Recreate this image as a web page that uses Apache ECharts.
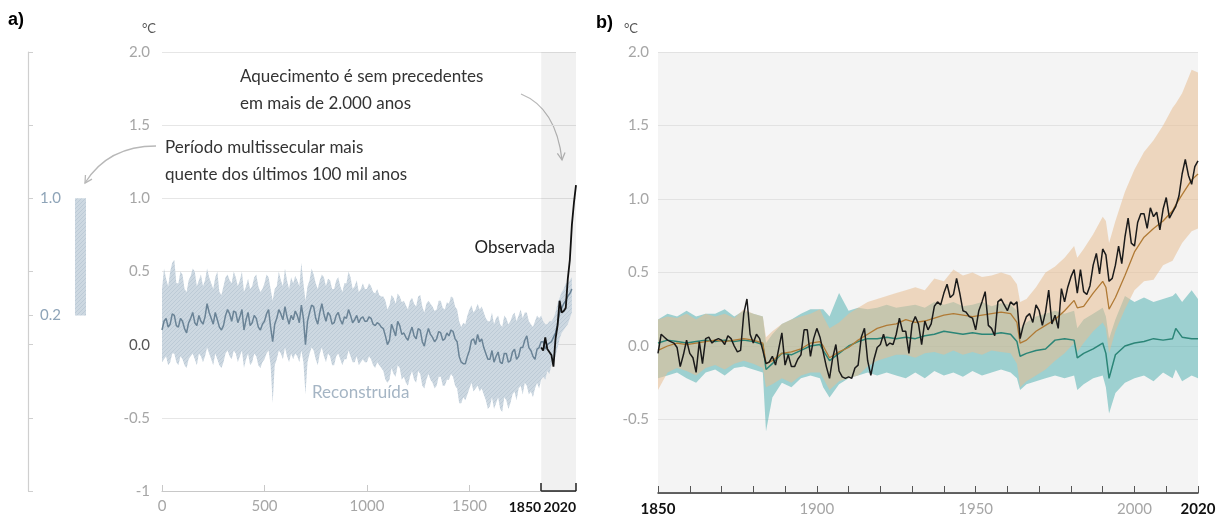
<!DOCTYPE html>
<html>
<head>
<meta charset="utf-8">
<script src="https://cdn.jsdelivr.net/npm/echarts@6.0.0/dist/echarts.min.js"></script>
<style>
html,body{margin:0;padding:0;background:#fff;}
#chart{width:1219px;height:524px;}
</style>
</head>
<body>
<div id="chart"></div>
<script>
// ---------- data ----------
const yTickValues = [-1, -0.5, 0, 0.5, 1, 1.5, 2];
const yTickLabels = ['-1', '-0.5', '0.0', '0.5', '1.0', '1.5', '2.0'];

// Panel a: reconstruction (10-year steps, year 0 to 2000)
const reconStart = 0, reconStep = 10;
const reconMean = [
  0.10, 0.16, 0.18, 0.12, 0.14, 0.21, 0.20, 0.13, 0.12, 0.18,
  0.16, 0.11, 0.08, 0.15, 0.18, 0.22, 0.15, 0.13, 0.20, 0.16,
  0.14, 0.19, 0.28, 0.22, 0.18, 0.14, 0.22, 0.17, 0.12, 0.10,
  0.13, 0.20, 0.24, 0.21, 0.16, 0.23, 0.22, 0.15, 0.19, 0.24,
  0.10, 0.17, 0.22, 0.13, 0.15, 0.20, 0.18, 0.12, 0.10, 0.14,
  0.16, 0.21, 0.24, 0.12, 0.02, 0.14, 0.18, 0.24, 0.21, 0.17,
  0.26, 0.19, 0.14, 0.20, 0.17, 0.23, 0.20, 0.15, 0.27, 0.18,
  0.00, 0.16, 0.22, 0.27, 0.26, 0.18, 0.14, 0.22, 0.28, 0.21,
  0.16, 0.22, 0.20, 0.14, 0.15, 0.20, 0.22, 0.17, 0.14, 0.19,
  0.18, 0.24, 0.20, 0.15, 0.17, 0.20, 0.15, 0.18, 0.19, 0.16,
  0.16, 0.19, 0.18, 0.14, 0.13, 0.15, 0.14, 0.12, 0.11, 0.06,
  0.00, 0.03, 0.14, 0.10, 0.06, 0.16, 0.13, 0.07, 0.08, 0.05,
  0.03, 0.08, 0.12, 0.06, 0.04, 0.11, 0.10, 0.02, -0.01, 0.06,
  0.11, 0.07, 0.05, 0.02, 0.04, 0.09, 0.08, 0.03, 0.04, 0.08,
  0.06, 0.10, 0.09, 0.04, 0.02, -0.08, -0.12, -0.13, -0.13, -0.08,
  -0.04, 0.03, 0.04, 0.00, 0.07, 0.02, 0.04, -0.02, -0.06, -0.10,
  -0.10, -0.04, -0.12, -0.08, -0.05, -0.12, -0.13, -0.06, -0.06, -0.12,
  -0.11, -0.05, -0.03, -0.10, -0.08, -0.02, -0.02, 0.03, 0.06, -0.02,
  -0.04, -0.08, -0.10, -0.03, -0.02, 0.02, 0.02, -0.03, 0.00, 0.01,
  0.02, 0.05, 0.08, 0.14, 0.22, 0.25, 0.28, 0.30, 0.33, 0.35,
  0.38
];
const reconUpper = [
  0.38, 0.52, 0.45, 0.40, 0.50, 0.56, 0.58, 0.42, 0.42, 0.50,
  0.48, 0.38, 0.36, 0.44, 0.47, 0.52, 0.50, 0.40, 0.44, 0.48,
  0.40, 0.44, 0.52, 0.46, 0.42, 0.38, 0.46, 0.50, 0.36, 0.34,
  0.40, 0.46, 0.48, 0.44, 0.42, 0.50, 0.46, 0.40, 0.44, 0.50,
  0.36, 0.40, 0.45, 0.38, 0.40, 0.46, 0.48, 0.40, 0.36, 0.38,
  0.42, 0.48, 0.46, 0.38, 0.30, 0.38, 0.40, 0.50, 0.44, 0.40,
  0.52, 0.44, 0.38, 0.46, 0.42, 0.47, 0.44, 0.40, 0.56, 0.42,
  0.30, 0.40, 0.44, 0.52, 0.48, 0.42, 0.38, 0.44, 0.48, 0.46,
  0.40, 0.45, 0.44, 0.38, 0.38, 0.44, 0.46, 0.40, 0.36, 0.42,
  0.42, 0.50, 0.46, 0.38, 0.40, 0.44, 0.36, 0.38, 0.42, 0.38,
  0.38, 0.42, 0.40, 0.36, 0.35, 0.38, 0.34, 0.33, 0.33, 0.30,
  0.24, 0.27, 0.34, 0.32, 0.28, 0.35, 0.33, 0.29, 0.30, 0.27,
  0.24, 0.30, 0.32, 0.28, 0.26, 0.33, 0.34, 0.26, 0.22, 0.28,
  0.30, 0.28, 0.26, 0.23, 0.24, 0.30, 0.30, 0.25, 0.24, 0.29,
  0.28, 0.33, 0.32, 0.26, 0.24, 0.16, 0.12, 0.15, 0.14, 0.20,
  0.24, 0.27, 0.22, 0.24, 0.28, 0.24, 0.26, 0.22, 0.18, 0.16,
  0.16, 0.22, 0.14, 0.18, 0.20, 0.14, 0.12, 0.20, 0.18, 0.14,
  0.16, 0.20, 0.22, 0.16, 0.20, 0.24, 0.18, 0.22, 0.22, 0.16,
  0.14, 0.12, 0.16, 0.20, 0.18, 0.20, 0.16, 0.14, 0.14, 0.16,
  0.16, 0.18, 0.22, 0.28, 0.32, 0.36, 0.38, 0.42, 0.42, 0.44,
  0.46
];
const reconLower = [
  -0.12, -0.10, -0.08, -0.14, -0.12, -0.06, -0.06, -0.12, -0.14, -0.08,
  -0.10, -0.14, -0.16, -0.10, -0.08, -0.06, -0.10, -0.14, -0.06, -0.08,
  -0.12, -0.08, -0.02, -0.06, -0.10, -0.14, -0.06, -0.10, -0.14, -0.16,
  -0.12, -0.06, -0.04, -0.08, -0.10, -0.04, -0.06, -0.12, -0.08, -0.04,
  -0.16, -0.10, -0.06, -0.14, -0.12, -0.06, -0.08, -0.14, -0.16, -0.12,
  -0.10, -0.06, -0.04, -0.14, -0.40, -0.14, -0.10, -0.04, -0.06, -0.10,
  -0.02, -0.08, -0.12, -0.06, -0.10, -0.06, -0.08, -0.12, -0.04, -0.12,
  -0.34, -0.12, -0.06, -0.02, -0.04, -0.10, -0.14, -0.06, -0.02, -0.08,
  -0.12, -0.06, -0.08, -0.14, -0.14, -0.08, -0.06, -0.10, -0.14, -0.10,
  -0.10, -0.04, -0.08, -0.12, -0.12, -0.08, -0.14, -0.12, -0.10, -0.12,
  -0.12, -0.08, -0.10, -0.14, -0.16, -0.12, -0.14, -0.16, -0.18, -0.24,
  -0.26, -0.24, -0.16, -0.20, -0.22, -0.14, -0.16, -0.24, -0.22, -0.26,
  -0.28, -0.22, -0.18, -0.24, -0.26, -0.18, -0.20, -0.28, -0.30, -0.24,
  -0.20, -0.24, -0.26, -0.30, -0.28, -0.22, -0.22, -0.28, -0.28, -0.24,
  -0.24, -0.20, -0.22, -0.28, -0.30, -0.40, -0.40, -0.36, -0.38, -0.34,
  -0.30, -0.26, -0.32, -0.30, -0.28, -0.32, -0.30, -0.34, -0.38, -0.44,
  -0.42, -0.36, -0.44, -0.40, -0.36, -0.44, -0.46, -0.36, -0.38, -0.44,
  -0.40, -0.34, -0.32, -0.38, -0.30, -0.28, -0.34, -0.26, -0.28, -0.34,
  -0.32, -0.36, -0.30, -0.26, -0.30, -0.24, -0.22, -0.24, -0.18, -0.20,
  -0.14, -0.10, -0.08, -0.02, 0.04, 0.08, 0.10, 0.12, 0.14, 0.18,
  0.22
];

// Panel a: observed, decadal (1850 to 2020)
const obsDecadalStart = 1850, obsDecadalStep = 10;
const obsDecadal = [-0.02, -0.04, 0.05, -0.03, -0.05, -0.07, -0.15, 0.04, 0.13,
  0.30, 0.22, 0.23, 0.25, 0.45, 0.58, 0.82, 0.97, 1.09];

// Warmest multi-century period of the last 100,000 years
const warmestRange = [0.2, 1.0];
// Observation period highlighted on panel a
const obsPeriod = [1850, 2020];

// Panel b: observed annual (1850 to 2020)
const obsStart = 1850;
const obsAnnual = [
  -0.05, 0.08, 0.06, 0.04, 0.03, 0.02, -0.01, -0.14, -0.06, 0.04,
  -0.05, -0.08, -0.18, 0.03, -0.12, 0.05, 0.06, 0.02, 0.04, 0.05,
  0.04, 0.01, 0.07, 0.05, 0.00, -0.04, -0.03, 0.22, 0.32, 0.08,
  0.02, 0.08, 0.05, -0.03, -0.12, -0.11, -0.07, -0.13, -0.02, 0.09,
  -0.13, -0.06, -0.14, -0.14, -0.09, -0.06, 0.11, 0.11, -0.07, 0.05,
  0.12, 0.06, -0.04, -0.14, -0.22, -0.08, 0.01, -0.17, -0.21, -0.22,
  -0.21, -0.22, -0.15, -0.13, 0.06, 0.12, -0.10, -0.20, -0.09, -0.01,
  0.01, 0.08, 0.00, 0.02, 0.01, 0.08, 0.19, 0.10, 0.10, -0.05,
  0.15, 0.20, 0.15, 0.01, 0.17, 0.11, 0.15, 0.27, 0.30, 0.28,
  0.36, 0.42, 0.33, 0.35, 0.46, 0.36, 0.24, 0.23, 0.20, 0.19,
  0.11, 0.24, 0.30, 0.37, 0.14, 0.12, 0.07, 0.30, 0.32, 0.28,
  0.24, 0.30, 0.28, 0.30, 0.05, 0.14, 0.20, 0.22, 0.16, 0.28,
  0.24, 0.14, 0.23, 0.38, 0.15, 0.21, 0.12, 0.39, 0.30, 0.40,
  0.47, 0.52, 0.36, 0.52, 0.37, 0.35, 0.41, 0.55, 0.63, 0.49,
  0.66, 0.62, 0.44, 0.46, 0.55, 0.68, 0.56, 0.74, 0.87, 0.70,
  0.68, 0.84, 0.90, 0.90, 0.80, 0.94, 0.88, 0.91, 0.79, 0.93,
  1.01, 0.87, 0.91, 0.95, 1.02, 1.17, 1.27, 1.16, 1.10, 1.22,
  1.26
];

// Panel b: simulations (human + natural, natural only)
const simYears = [1850, 1853, 1856, 1859, 1862, 1865, 1868, 1871, 1874, 1877,
  1880, 1883, 1884, 1886, 1889, 1892, 1895, 1898, 1901, 1902,
  1904, 1907, 1910, 1913, 1916, 1919, 1922, 1925, 1928, 1931,
  1934, 1937, 1940, 1943, 1946, 1949, 1952, 1955, 1958, 1961,
  1963, 1964, 1966, 1969, 1972, 1975, 1978, 1981, 1982, 1984,
  1987, 1990, 1991, 1992, 1994, 1997, 2000, 2003, 2006, 2009,
  2012, 2013, 2015, 2018, 2020];
const humanNatMean = [-0.03, 0.00, 0.02, 0.01, 0.02, 0.03, 0.04, 0.03, 0.04, 0.05,
  0.04, 0.02, -0.12, -0.10, -0.05, -0.04, -0.02, 0.02, 0.03, 0.00,
  -0.08, -0.04, -0.01, 0.04, 0.08, 0.12, 0.14, 0.15, 0.18, 0.16,
  0.17, 0.19, 0.21, 0.22, 0.21, 0.20, 0.21, 0.22, 0.23, 0.22,
  0.16, 0.02, 0.04, 0.10, 0.14, 0.18, 0.24, 0.31, 0.26, 0.27,
  0.36, 0.44, 0.40, 0.25, 0.33, 0.48, 0.64, 0.74, 0.80, 0.85,
  0.92, 0.96, 1.03, 1.13, 1.17];
const humanNatUpper = [0.18, 0.20, 0.19, 0.22, 0.18, 0.22, 0.20, 0.22, 0.19, 0.25,
  0.22, 0.20, 0.06, 0.10, 0.15, 0.18, 0.20, 0.22, 0.25, 0.20,
  0.12, 0.16, 0.22, 0.26, 0.30, 0.32, 0.34, 0.36, 0.38, 0.40,
  0.38, 0.46, 0.44, 0.52, 0.48, 0.50, 0.47, 0.48, 0.50, 0.48,
  0.42, 0.30, 0.32, 0.40, 0.50, 0.54, 0.60, 0.68, 0.60, 0.66,
  0.76, 0.88, 0.85, 0.70, 0.85, 1.05, 1.20, 1.32, 1.40, 1.50,
  1.62, 1.65, 1.72, 1.88, 1.86];
const humanNatLower = [-0.30, -0.18, -0.15, -0.17, -0.20, -0.15, -0.13, -0.16, -0.12, -0.10,
  -0.12, -0.15, -0.28, -0.26, -0.22, -0.25, -0.20, -0.18, -0.18, -0.22,
  -0.30, -0.24, -0.22, -0.20, -0.14, -0.10, -0.08, -0.06, -0.06, -0.08,
  -0.05, -0.04, -0.06, -0.03, -0.06, -0.04, -0.06, -0.03, -0.04, -0.05,
  -0.12, -0.28, -0.24, -0.20, -0.16, -0.10, -0.05, 0.02, -0.04, 0.02,
  0.10, 0.16, 0.12, -0.05, 0.10, 0.25, 0.38, 0.44, 0.45, 0.55,
  0.58, 0.62, 0.70, 0.78, 0.80];
const naturalMean = [0.02, 0.04, 0.03, 0.02, 0.03, 0.04, 0.03, 0.04, 0.03, 0.04,
  0.03, 0.01, -0.16, -0.12, -0.05, -0.06, -0.03, 0.00, 0.01, -0.03,
  -0.10, -0.05, 0.00, 0.03, 0.05, 0.05, 0.06, 0.05, 0.06, 0.05,
  0.07, 0.08, 0.10, 0.09, 0.08, 0.09, 0.08, 0.08, 0.09, 0.08,
  0.03, -0.07, -0.05, -0.03, -0.02, 0.04, 0.05, 0.04, -0.08, -0.05,
  -0.02, 0.02, -0.05, -0.22, -0.06, 0.00, 0.02, 0.03, 0.05, 0.04,
  0.05, 0.12, 0.06, 0.05, 0.05];
const naturalUpper = [0.18, 0.22, 0.20, 0.24, 0.20, 0.22, 0.22, 0.25, 0.20, 0.24,
  0.22, 0.20, 0.02, 0.08, 0.15, 0.18, 0.22, 0.25, 0.25, 0.25,
  0.20, 0.36, 0.24, 0.26, 0.25, 0.26, 0.28, 0.26, 0.27, 0.28,
  0.26, 0.30, 0.28, 0.30, 0.27, 0.28, 0.30, 0.27, 0.29, 0.28,
  0.24, 0.12, 0.16, 0.20, 0.22, 0.24, 0.22, 0.24, 0.12, 0.18,
  0.22, 0.26, 0.20, 0.05, 0.18, 0.34, 0.30, 0.33, 0.30, 0.32,
  0.34, 0.36, 0.30, 0.38, 0.32];
const naturalLower = [-0.22, -0.20, -0.18, -0.22, -0.25, -0.18, -0.16, -0.20, -0.15, -0.14,
  -0.16, -0.18, -0.58, -0.35, -0.25, -0.28, -0.22, -0.20, -0.22, -0.28,
  -0.35, -0.26, -0.22, -0.20, -0.18, -0.20, -0.18, -0.20, -0.22, -0.18,
  -0.22, -0.17, -0.20, -0.18, -0.21, -0.17, -0.20, -0.18, -0.16, -0.18,
  -0.22, -0.30, -0.26, -0.24, -0.22, -0.20, -0.22, -0.20, -0.30, -0.26,
  -0.22, -0.20, -0.28, -0.46, -0.32, -0.25, -0.22, -0.20, -0.24, -0.18,
  -0.22, -0.16, -0.24, -0.20, -0.22];

// ---------- helpers ----------
const pairs = (xs, ys) => ys.map((v, i) => [xs[i], v]);
const stepYears = (start, step, n) => Array.from({length: n}, (_, i) => start + i * step);
const reconYears = stepYears(reconStart, reconStep, reconMean.length);
const obsDecadalYears = stepYears(obsDecadalStart, obsDecadalStep, obsDecadal.length);
const obsYears = stepYears(obsStart, 1, obsAnnual.length);

function hatchPattern() {
  const c = document.createElement('canvas');
  c.width = 4; c.height = 4;
  const g = c.getContext('2d');
  g.fillStyle = '#cdd8e1';
  g.fillRect(0, 0, 4, 4);
  g.strokeStyle = '#bccad6';
  g.lineWidth = 1;
  g.beginPath();
  g.moveTo(0, 4); g.lineTo(4, 0);
  g.moveTo(-1, 1); g.lineTo(1, -1);
  g.moveTo(3, 5); g.lineTo(5, 3);
  g.stroke();
  return c;
}
const hatchFill = {image: hatchPattern(), repeat: 'repeat'};

function bandSeries(xIdx, yIdx, xs, lo, hi, fill, z) {
  return {
    type: 'custom', xAxisIndex: xIdx, yAxisIndex: yIdx, z: z, silent: true,
    data: [[xs[0], lo[0], hi[0]]],
    renderItem: function (params, api) {
      const pts = [];
      for (let i = 0; i < xs.length; i++) pts.push(api.coord([xs[i], hi[i]]));
      for (let i = xs.length - 1; i >= 0; i--) pts.push(api.coord([xs[i], lo[i]]));
      return {type: 'polygon', shape: {points: pts}, style: {fill: fill}};
    }
  };
}

function lineSeries(xIdx, yIdx, data, color, width, z) {
  return {
    type: 'line', xAxisIndex: xIdx, yAxisIndex: yIdx, data: data, z: z,
    showSymbol: false, silent: true, smooth: false,
    lineStyle: {color: color, width: width}
  };
}

function arrow(x1, y1, cx, cy, x2, y2) {
  const ang = Math.atan2(y2 - cy, x2 - cx);
  const L = 8, spread = 0.5;
  const p1 = [x2 - L * Math.cos(ang - spread), y2 - L * Math.sin(ang - spread)];
  const p2 = [x2 - L * Math.cos(ang + spread), y2 - L * Math.sin(ang + spread)];
  return [
    {type: 'bezierCurve', shape: {x1: x1, y1: y1, cpx1: cx, cpy1: cy, x2: x2, y2: y2},
      style: {stroke: '#b8b8b8', lineWidth: 1.3, fill: null}},
    {type: 'polyline', shape: {points: [p1, [x2, y2], p2]},
      style: {stroke: '#b8b8b8', lineWidth: 1.3, fill: null}}
  ];
}

const FONT = 'Lato';
const Y_MIN = yTickValues[0], Y_MAX = yTickValues[yTickValues.length - 1];
const yLabel = v => yTickLabels[yTickValues.indexOf(v)] || '';
// horizontal extent of the warmest-period bar inside its small grid (0..1)
const BAR_SPAN = [0.81, 1.0];

// ---------- chart ----------
const chart = echarts.init(document.getElementById('chart'));
const option = {
  animation: false,
  textStyle: {fontFamily: FONT},
  grid: [
    {left: 162, top: 52, width: 414, height: 439},
    {left: 658, top: 52, width: 540, height: 441, show: true, backgroundColor: '#f4f4f4', borderWidth: 0},
    {left: 28, top: 52, width: 58, height: 439}
  ],
  xAxis: [
    { // panel a, years 0 to 2020
      type: 'value', gridIndex: 0, min: 0, max: 2020, position: 'bottom',
      axisLine: {onZero: false, lineStyle: {color: '#c8c8c8', width: 1.2}},
      axisTick: {inside: true, length: 6, customValues: [0, 500, 1000, 1500], lineStyle: {color: '#c8c8c8'}},
      axisLabel: {customValues: [0, 500, 1000, 1500], formatter: v => String(v), color: '#a6a6a6', fontSize: 15, margin: 8},
      splitLine: {show: false}
    },
    { // panel a, observation period bracket
      type: 'value', gridIndex: 0, min: 0, max: 2020, position: 'bottom',
      axisLine: {show: false, onZero: false},
      axisTick: {inside: true, length: 8, customValues: obsPeriod, lineStyle: {color: '#222', width: 1.5}},
      axisLabel: {customValues: obsPeriod, formatter: v => String(v), color: '#111', fontWeight: 'bold', fontSize: 14, align: 'right', margin: 9},
      splitLine: {show: false}
    },
    { // panel b, 1850 to 2020
      type: 'value', gridIndex: 1, min: 1850, max: 2020, interval: 10, position: 'bottom',
      axisLine: {onZero: false, lineStyle: {color: '#333', width: 1.5}},
      axisTick: {inside: true, length: 7, lineStyle: {color: '#555'}},
      axisLabel: {
        customValues: [1850, 1900, 1950, 2000, 2020],
        formatter: v => (v === 1850 || v === 2020) ? '{b|' + v + '}' : '{g|' + v + '}',
        margin: 9,
        rich: {
          b: {color: '#111', fontWeight: 'bold', fontSize: 15, fontFamily: FONT},
          g: {color: '#a6a6a6', fontSize: 15, fontFamily: FONT}
        }
      },
      splitLine: {show: false}
    },
    { // warmest-period bar
      type: 'value', gridIndex: 2, min: 0, max: 1, show: false
    }
  ],
  yAxis: [
    {
      type: 'value', gridIndex: 0, min: Y_MIN, max: Y_MAX, interval: 0.5,
      name: '°C', nameLocation: 'end', nameGap: 17,
      nameTextStyle: {color: '#555', fontSize: 13, align: 'right', padding: [0, 6, 0, 0]},
      axisLine: {show: false, onZero: false}, axisTick: {show: false},
      axisLabel: {
        formatter: v => v === 0 ? '{d|' + yLabel(v) + '}' : yLabel(v),
        color: '#a6a6a6', fontSize: 15, margin: 12,
        rich: {d: {color: '#555', fontSize: 15, fontFamily: FONT}}
      },
      splitLine: {lineStyle: {color: '#e6e6e6', width: 1}}
    },
    {
      type: 'value', gridIndex: 1, min: Y_MIN, max: Y_MAX, interval: 0.5,
      name: '°C', nameLocation: 'end', nameGap: 17,
      nameTextStyle: {color: '#555', fontSize: 13, align: 'right', padding: [0, 20, 0, 0]},
      axisLine: {show: false, onZero: false}, axisTick: {show: false},
      axisLabel: {formatter: v => v === Y_MIN ? '' : yLabel(v), color: '#a6a6a6', fontSize: 15, margin: 9},
      splitLine: {lineStyle: {color: '#e2e2e2', width: 1.2}}
    },
    {
      type: 'value', gridIndex: 2, min: Y_MIN, max: Y_MAX, position: 'left',
      axisLine: {show: true, onZero: false, lineStyle: {color: '#cfcfcf', width: 1.2}},
      axisTick: {show: true, inside: true, length: 5, customValues: [-1, -0.5, 0, 0.2, 0.5, 1, 1.5, 2], lineStyle: {color: '#cfcfcf'}},
      axisLabel: {customValues: warmestRange, formatter: v => v.toFixed(1), color: '#8ea4b8', fontSize: 15, margin: -12, align: 'left'},
      splitLine: {show: false}
    }
  ],
  series: [
    // panel a: shading of the observation period and its bracket on the axis
    {
      type: 'line', xAxisIndex: 0, yAxisIndex: 0, data: [], silent: true,
      markArea: {silent: true, itemStyle: {color: 'rgba(0,0,0,0.055)'},
        data: [[{xAxis: obsPeriod[0]}, {xAxis: obsPeriod[1]}]]},
      markLine: {silent: true, symbol: 'none', label: {show: false},
        lineStyle: {color: '#222', width: 1.5, type: 'solid'},
        data: [[{coord: [obsPeriod[0], Y_MIN]}, {coord: [obsPeriod[1], Y_MIN]}]]}
    },
    bandSeries(0, 0, reconYears, reconLower, reconUpper, hatchFill, 2),
    lineSeries(0, 0, pairs(reconYears, reconMean), '#6a8396', 1.5, 3),
    lineSeries(0, 0, pairs(obsDecadalYears, obsDecadal), '#111', 1.8, 4),

    // panel b
    bandSeries(2, 1, simYears, naturalLower, naturalUpper, 'rgba(70,172,172,0.5)', 2),
    bandSeries(2, 1, simYears, humanNatLower, humanNatUpper, 'rgba(232,190,145,0.55)', 2),
    lineSeries(2, 1, pairs(simYears, naturalMean), '#2b8577', 1.5, 3),
    lineSeries(2, 1, pairs(simYears, humanNatMean), '#b07a35', 1.3, 3),
    lineSeries(2, 1, pairs(obsYears, obsAnnual), '#1a1a1a', 1.5, 4),

    // warmest multi-century period bar
    {
      type: 'custom', xAxisIndex: 3, yAxisIndex: 2, silent: true,
      data: [[0, warmestRange[0], warmestRange[1]]],
      renderItem: function (params, api) {
        const a = api.coord([BAR_SPAN[0], api.value(2)]);
        const b = api.coord([BAR_SPAN[1], api.value(1)]);
        return {type: 'rect', shape: {x: a[0], y: a[1], width: b[0] - a[0], height: b[1] - a[1]},
          style: {fill: hatchFill}};
      }
    }
  ],
  graphic: [
    {type: 'text', left: 8, top: 11, style: {text: 'a)', font: 'bold 18px "Liberation Sans", Arial, sans-serif', fill: '#000'}},
    {type: 'text', left: 596, top: 14, style: {text: 'b)', font: 'bold 18px "Liberation Sans", Arial, sans-serif', fill: '#000'}},
    {type: 'text', left: 240, top: 63, style: {text: 'Aquecimento é sem precedentes\nem mais de 2.000 anos', font: '17px Lato', lineHeight: 27, fill: '#333'}},
    {type: 'text', left: 165, top: 134, style: {text: 'Período multissecular mais\nquente dos últimos 100 mil anos', font: '17px Lato', lineHeight: 27, fill: '#333'}},
    {type: 'text', right: 1219 - 555, top: 239, style: {text: 'Observada', font: '17px Lato', fill: '#222'}},
    {type: 'text', left: 312, top: 384, style: {text: 'Reconstruída', font: '17px Lato', fill: '#a5b5c4'}},
    ...arrow(156, 146, 108, 146, 85, 183),
    ...arrow(521, 94, 556, 108, 562, 160)
  ]
};
chart.setOption(option);
</script>
</body>
</html>
